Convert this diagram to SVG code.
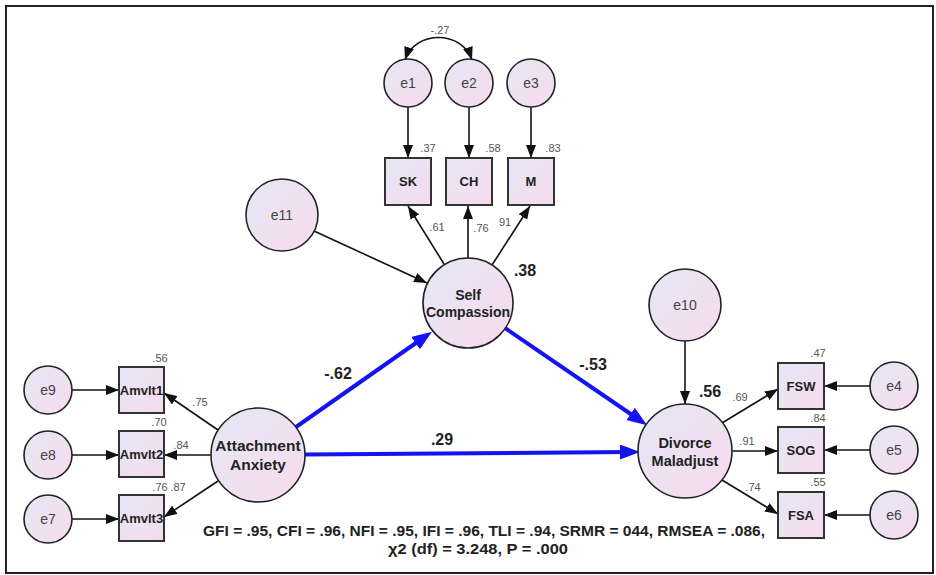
<svg xmlns="http://www.w3.org/2000/svg" width="936" height="575" viewBox="0 0 936 575">
<defs>
<linearGradient id="fillg" x1="0" y1="0" x2="1" y2="1">
<stop offset="0" stop-color="#e4e8f4"/>
<stop offset="1" stop-color="#f8daf0"/>
</linearGradient>
<marker id="ah" markerUnits="userSpaceOnUse" markerWidth="13" markerHeight="10" refX="13" refY="5" orient="auto-start-reverse">
<path d="M0,0 L13,5 L0,10 z" fill="#111"/>
</marker>
<marker id="bh" markerUnits="userSpaceOnUse" markerWidth="20" markerHeight="15" refX="9" refY="7.5" orient="auto">
<path d="M0,0 L20,7.5 L0,15 z" fill="#1414f0"/>
</marker>
</defs>
<style>
.c{fill:url(#fillg);stroke:#222;stroke-width:1.6}
.b{fill:url(#fillg);stroke:#333;stroke-width:2}
.e{font-family:"Liberation Sans",Arial,sans-serif;font-size:14px;fill:#444;text-anchor:middle}
.bl{font-family:"Liberation Sans",Arial,sans-serif;font-size:13px;font-weight:bold;fill:#222;text-anchor:middle}
.lt{font-family:"Liberation Sans",Arial,sans-serif;font-size:14.5px;font-weight:bold;fill:#222;text-anchor:middle}
.s{font-family:"Liberation Sans",Arial,sans-serif;font-size:11px;fill:#555;text-anchor:middle}
.big{font-family:"Liberation Sans",Arial,sans-serif;font-size:16px;font-weight:bold;fill:#222;text-anchor:middle}
.fm{font-family:"Liberation Sans",Arial,sans-serif;font-size:14px;font-weight:bold;fill:#222}
.k{stroke:#111;stroke-width:1.6;fill:none;marker-end:url(#ah)}
.bw{stroke:#1414f0;stroke-width:4;fill:none;marker-end:url(#bh)}
</style>
<rect x="6" y="6" width="927" height="567" fill="#fff" stroke="#222" stroke-width="2"/>

<g id="connectors">
<path d="M405,60 C415,30 462,30 472,60" class="k" marker-start="url(#ah)"/>
<line x1="408" y1="107" x2="408" y2="158" class="k"/>
<line x1="469" y1="107" x2="469" y2="158" class="k"/>
<line x1="531" y1="107" x2="531" y2="158" class="k"/>
<line x1="314" y1="231" x2="427" y2="283" class="k"/>
<line x1="444" y1="264" x2="408" y2="206" class="k"/>
<line x1="468" y1="258" x2="468" y2="206" class="k"/>
<line x1="492" y1="265" x2="530" y2="206" class="k"/>
<line x1="685" y1="341" x2="685" y2="404" class="k"/>
<line x1="722" y1="423" x2="778" y2="389" class="k"/>
<line x1="732" y1="451" x2="778" y2="451" class="k"/>
<line x1="722" y1="480" x2="778" y2="514" class="k"/>
<line x1="870" y1="386" x2="824" y2="386" class="k"/>
<line x1="870" y1="450" x2="824" y2="450" class="k"/>
<line x1="870" y1="515" x2="824" y2="515" class="k"/>
<line x1="72" y1="390" x2="119" y2="390" class="k"/>
<line x1="72" y1="455" x2="119" y2="455" class="k"/>
<line x1="72" y1="519" x2="119" y2="519" class="k"/>
<line x1="218" y1="430" x2="164" y2="393" class="k"/>
<line x1="211" y1="455" x2="164" y2="455" class="k"/>
<line x1="218" y1="481" x2="164" y2="517" class="k"/>
<line x1="296" y1="427" x2="423" y2="338" class="bw"/>
<line x1="505" y1="328" x2="638" y2="419" class="bw"/>
<line x1="305" y1="454.5" x2="629" y2="452" class="bw"/>
</g>

<g id="e1"><circle cx="408" cy="83" r="24" class="c"/><text x="408" y="88" class="e">e1</text></g>
<g id="e2"><circle cx="469" cy="83" r="24" class="c"/><text x="469" y="88" class="e">e2</text></g>
<g id="e3"><circle cx="531" cy="83" r="24" class="c"/><text x="531" y="88" class="e">e3</text></g>
<g id="SK"><rect x="385" y="158" width="46" height="47" class="b"/><text x="408" y="186" class="bl">SK</text></g>
<g id="CH"><rect x="446" y="158" width="46" height="47" class="b"/><text x="469" y="186" class="bl">CH</text></g>
<g id="M"><rect x="508" y="158" width="46" height="47" class="b"/><text x="531" y="186" class="bl">M</text></g>
<g id="e11"><circle cx="282" cy="215" r="36" class="c"/><text x="282" y="220" class="e">e11</text></g>
<g id="SelfCompassion"><circle cx="468" cy="303" r="45" class="c"/><text x="468" y="300" class="lt" style="font-size:14px">Self</text><text x="468" y="317" class="lt" style="font-size:14px">Compassion</text></g>
<g id="e10"><circle cx="685" cy="305" r="36" class="c"/><text x="685" y="310" class="e">e10</text></g>
<g id="DivorceMaladjust"><circle cx="685" cy="451" r="47" class="c"/><text x="685" y="448" class="lt">Divorce</text><text x="685" y="466" class="lt">Maladjust</text></g>
<g id="AttachmentAnxiety"><circle cx="258" cy="455" r="47" class="c"/><text x="258" y="451" class="lt" style="font-size:15.5px">Attachment</text><text x="258" y="470" class="lt" style="font-size:15.5px">Anxiety</text></g>
<g id="Amvlt1"><rect x="119" y="367" width="45" height="46" class="b"/><text x="141.5" y="395" class="bl">Amvlt1</text></g>
<g id="Amvlt2"><rect x="119" y="431" width="45" height="46" class="b"/><text x="141.5" y="459" class="bl">Amvlt2</text></g>
<g id="Amvlt3"><rect x="119" y="495" width="45" height="46" class="b"/><text x="141.5" y="523" class="bl">Amvlt3</text></g>
<g id="e9"><circle cx="48" cy="390" r="24" class="c"/><text x="48" y="395" class="e">e9</text></g>
<g id="e8"><circle cx="48" cy="455" r="24" class="c"/><text x="48" y="460" class="e">e8</text></g>
<g id="e7"><circle cx="48" cy="519" r="24" class="c"/><text x="48" y="524" class="e">e7</text></g>
<g id="FSW"><rect x="778" y="363" width="46" height="46" class="b"/><text x="801" y="391" class="bl">FSW</text></g>
<g id="SOG"><rect x="778" y="427" width="46" height="46" class="b"/><text x="801" y="455" class="bl">SOG</text></g>
<g id="FSA"><rect x="778" y="492" width="46" height="46" class="b"/><text x="801" y="520" class="bl">FSA</text></g>
<g id="e4"><circle cx="894" cy="386" r="24" class="c"/><text x="894" y="391" class="e">e4</text></g>
<g id="e5"><circle cx="894" cy="450" r="24" class="c"/><text x="894" y="455" class="e">e5</text></g>
<g id="e6"><circle cx="894" cy="515" r="24" class="c"/><text x="894" y="520" class="e">e6</text></g>

<g id="labels">
<text x="440" y="34" class="s">-.27</text>
<text x="428" y="152" class="s">.37</text>
<text x="493" y="152" class="s">.58</text>
<text x="553" y="152" class="s">.83</text>
<text x="437" y="231" class="s">.61</text>
<text x="481" y="232" class="s">.76</text>
<text x="505" y="226" class="s">91</text>
<text x="525" y="276" class="big">.38</text>
<text x="710" y="397" class="big">.56</text>
<text x="338" y="379" class="big">-.62</text>
<text x="593" y="370" class="big">-.53</text>
<text x="442" y="445" class="big">.29</text>
<text x="160" y="362" class="s">.56</text>
<text x="200" y="406" class="s">.75</text>
<text x="159" y="426" class="s">.70</text>
<text x="181" y="449" class="s">.84</text>
<text x="160" y="491" class="s">.76</text>
<text x="178" y="491" class="s">.87</text>
<text x="818" y="357" class="s">.47</text>
<text x="818" y="422" class="s">.84</text>
<text x="818" y="486" class="s">.55</text>
<text x="740" y="401" class="s">.69</text>
<text x="747" y="445" class="s">.91</text>
<text x="753" y="491" class="s">.74</text>
<text x="203" y="536" class="fm" textLength="562" lengthAdjust="spacingAndGlyphs">GFI = .95, CFI = .96, NFI = .95, IFI = .96, TLI = .94, SRMR = 044, RMSEA = .086,</text>
<text x="388" y="554" class="fm" textLength="180" lengthAdjust="spacingAndGlyphs">χ2 (df) = 3.248, P = .000</text>
</g>
</svg>
